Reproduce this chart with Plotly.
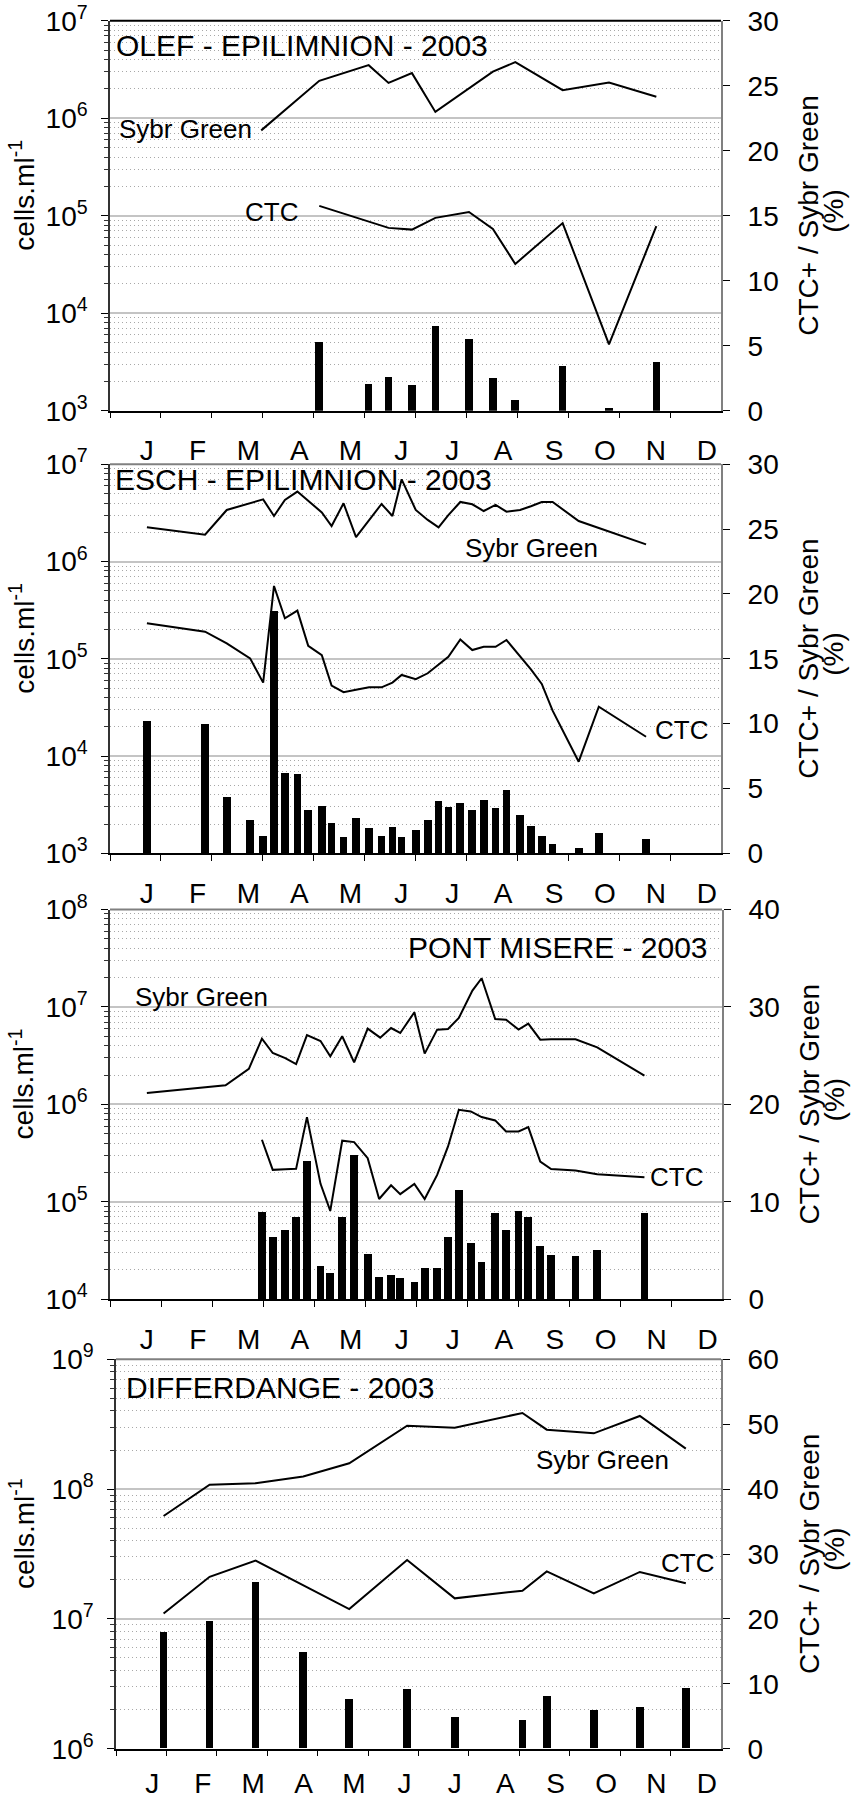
import plotly.graph_objects as go

# ---------------- data (x = fractional month since 1 Jan 2003) ----------------
MONTHS = ["J", "F", "M", "A", "M", "J", "J", "A", "S", "O", "N", "D"]

olef_sg_x = [2.97, 4.11, 5.08, 5.47, 5.93, 6.39, 7.52, 7.96, 8.89, 9.80, 10.73]
olef_sg_y = [7.5e5, 2.42e6, 3.5e6, 2.3e6, 2.9e6, 1.16e6, 3.0e6, 3.76e6, 1.94e6, 2.32e6, 1.66e6]
olef_ctc_x = [4.11, 5.47, 5.93, 6.39, 7.05, 7.52, 7.96, 8.89, 9.80, 10.73]
olef_ctc_y = [1.26e5, 7.5e4, 7.2e4, 9.5e4, 1.09e5, 7.3e4, 3.2e4, 8.4e4, 4.8e3, 7.8e4]
olef_pct_x = [4.11, 5.08, 5.47, 5.93, 6.39, 7.05, 7.52, 7.96, 8.89, 9.80, 10.73]
olef_pct_y = [5.27, 2.1, 2.6, 2.0, 6.55, 5.55, 2.54, 0.87, 3.47, 0.23, 3.75]

esch_x = [0.725, 1.867, 2.293, 2.752, 3.008, 3.221, 3.435, 3.680, 3.893, 4.160, 4.352,
          4.587, 4.832, 5.088, 5.333, 5.547, 5.728, 6.005, 6.240, 6.453, 6.645, 6.880,
          7.115, 7.339, 7.573, 7.787, 8.053, 8.267, 8.480, 8.693, 9.205, 9.600, 10.528]
esch_sg_y = [2.25e6, 1.89e6, 3.39e6, 3.97e6, 4.36e6, 2.94e6, 4.30e6, 5.24e6, 4.2e6, 3.2e6, 2.32e6,
             3.97e6, 1.78e6, 2.68e6, 3.91e6, 2.94e6, 7.0e6, 3.39e6, 2.68e6, 2.25e6, 3.0e6, 4.10e6,
             3.88e6, 3.31e6, 3.82e6, 3.26e6, 3.39e6, 3.7e6, 4.10e6, 4.10e6, 2.61e6, 2.21e6, 1.50e6]
esch_ctc_y = [2.32e5, 1.90e5, 1.44e5, 1.01e5, 5.69e4, 5.61e5, 2.61e5, 3.13e5, 1.36e5, 1.09e5, 5.30e4,
              4.53e4, 4.8e4, 5.09e4, 5.09e4, 5.69e4, 6.82e4, 6.16e4, 7.10e4, 8.64e4, 1.05e5, 1.58e5,
              1.23e5, 1.33e5, 1.33e5, 1.56e5, 1.05e5, 7.8e4, 5.51e4, 2.93e4, 8.75e3, 3.22e4, 1.58e4]
esch_pct_y = [10.2, 9.95, 4.3, 2.57, 1.34, 18.7, 6.17, 6.07, 3.34, 3.6, 2.31,
              1.21, 2.7, 1.93, 1.34, 1.98, 1.21, 1.8, 2.57, 4.04, 3.55, 3.86,
              3.29, 4.06, 3.5, 4.83, 2.9, 2.1, 1.34, 0.69, 0.36, 1.52, 1.05]

pont_sg_x = [0.723, 2.266, 2.723, 2.979, 3.191, 3.436, 3.649, 3.862, 4.128, 4.319, 4.553,
             4.787, 5.053, 5.298, 5.511, 5.691, 5.968, 6.170, 6.415, 6.628, 6.840, 7.106,
             7.287, 7.553, 7.766, 8.011, 8.202, 8.436, 8.649, 9.128, 9.553, 10.479]
pont_sg_y = [1.31e6, 1.57e6, 2.32e6, 4.73e6, 3.37e6, 2.99e6, 2.59e6, 5.15e6, 4.47e6, 3.11e6, 5.0e6,
             2.70e6, 5.99e6, 4.84e6, 6.08e6, 5.41e6, 8.81e6, 3.32e6, 5.85e6, 5.94e6, 7.71e6, 1.47e7,
             1.97e7, 7.53e6, 7.4e6, 5.85e6, 6.74e6, 4.62e6, 4.65e6, 4.65e6, 3.85e6, 1.97e6]
pont_x = [2.979, 3.191, 3.436, 3.649, 3.862, 4.128, 4.319, 4.553, 4.787, 5.053, 5.277,
          5.511, 5.691, 5.968, 6.170, 6.415, 6.628, 6.840, 7.074, 7.287, 7.553, 7.766,
          8.011, 8.202, 8.436, 8.649, 9.128, 9.553, 10.479]
pont_ctc_y = [4.34e5, 2.13e5, 2.16e5, 2.18e5, 7.41e5, 1.53e5, 8.09e4, 4.24e5, 4.10e5, 2.81e5, 1.07e5,
              1.48e5, 1.20e5, 1.53e5, 1.07e5, 1.89e5, 3.70e5, 8.81e5, 8.47e5, 7.41e5, 6.85e5, 5.28e5,
              5.28e5, 5.85e5, 2.59e5, 2.17e5, 2.10e5, 1.92e5, 1.79e5]
pont_pct_y = [9.0, 6.44, 7.19, 8.49, 14.2, 3.49, 2.74, 8.49, 14.9, 4.66, 2.33,
              2.5, 2.26, 1.82, 3.29, 3.29, 6.44, 11.3, 5.82, 3.87, 8.94, 7.12,
              9.08, 8.49, 5.51, 4.55, 4.45, 5.07, 8.94]

diff_x = [0.944, 1.857, 2.769, 3.714, 4.626, 5.774, 6.719, 8.061, 8.544, 9.477, 10.390, 11.302]
diff_sg_y = [6.21e7, 1.08e8, 1.11e8, 1.25e8, 1.58e8, 3.08e8, 2.97e8, 3.86e8, 2.87e8, 2.69e8, 3.66e8, 2.05e8]
diff_ctc_y = [1.10e7, 2.11e7, 2.81e7, 1.82e7, 1.19e7, 2.84e7, 1.44e7, 1.65e7, 2.32e7, 1.57e7, 2.30e7, 1.88e7]
diff_pct_y = [18.0, 19.6, 25.6, 14.8, 7.65, 9.19, 4.88, 4.37, 8.11, 5.96, 6.32, 9.24]

titles = ["OLEF - EPILIMNION - 2003", "ESCH - EPILIMNION - 2003",
          "PONT MISERE - 2003", "DIFFERDANGE - 2003"]

# ---------------- layout config (pixels) ----------------
W, H = 857, 1800
FONT = "Liberation Sans, Arial, sans-serif"

panels = [
    dict(sg=(olef_sg_x, olef_sg_y), ctc=(olef_ctc_x, olef_ctc_y), pct=(olef_pct_x, olef_pct_y),
         top=20.7, bottom=410.7, left=110, right=721, logr=(3, 7), pmax=30, pdt=5,
         title_xy=(114, 45), title_anchor="left", sg_xy=(185, 129), ctc_xy=(271, 212),
         topcolor="black", xstand=14),
    dict(sg=(esch_x, esch_sg_y), ctc=(esch_x, esch_ctc_y), pct=(esch_x, esch_pct_y),
         top=464.3, bottom=853.3, left=110, right=721, logr=(3, 7), pmax=30, pdt=5,
         title_xy=(113, 480), title_anchor="left", sg_xy=(531, 548), ctc_xy=(681, 730),
         topcolor="#808080", xstand=14),
    dict(sg=(pont_sg_x, pont_sg_y), ctc=(pont_x, pont_ctc_y), pct=(pont_x, pont_pct_y),
         top=909.5, bottom=1299.3, left=110, right=722, logr=(4, 8), pmax=40, pdt=10,
         title_xy=(710, 947), title_anchor="right", sg_xy=(201, 997), ctc_xy=(676, 1177),
         topcolor="#808080", xstand=14),
    dict(sg=(diff_x, diff_sg_y), ctc=(diff_x, diff_ctc_y), pct=(diff_x, diff_pct_y),
         top=1359.3, bottom=1748.7, left=116, right=721, logr=(6, 9), pmax=60, pdt=10,
         title_xy=(124, 1387), title_anchor="left", sg_xy=(602, 1460), ctc_xy=(687, 1563),
         topcolor="#808080", xstand=9),
]

def px(x):
    return x / W

def py(y):
    return 1 - y / H

fig = go.Figure()
layout = dict(width=W, height=H,
              margin=dict(l=0, r=0, t=0, b=0, pad=0, autoexpand=False),
              paper_bgcolor="white", plot_bgcolor="white", showlegend=False,
              font=dict(family=FONT, size=28, color="black"), bargap=0)
annotations = []
shapes = []

for i, p in enumerate(panels):
    xn = "" if i == 0 else str(i + 1)
    yl = str(2 * i + 1) if i > 0 else ""
    yr = str(2 * i + 2)
    xname, ylname, yrname = "x" + xn, "y" + yl, "y" + yr

    # bars (right axis %)
    fig.add_trace(go.Bar(x=p["pct"][0], y=p["pct"][1], width=0.15,
                         marker=dict(color="black", line=dict(width=0)),
                         xaxis=xname, yaxis=yrname, hoverinfo="skip"))
    # lines (left log axis)
    for key in ("sg", "ctc"):
        fig.add_trace(go.Scatter(x=p[key][0], y=p[key][1], mode="lines",
                                 line=dict(color="black", width=2),
                                 xaxis=xname, yaxis=ylname, hoverinfo="skip"))

    lo, hi = p["logr"]
    major = [10 ** d for d in range(lo, hi + 1)]
    minor = [k * 10 ** d for d in range(lo, hi) for k in range(2, 10)]
    ydom = [py(p["bottom"]), py(p["top"])]

    layout["xaxis" + xn] = dict(
        domain=[px(p["left"]), px(p["right"])], range=[0, 12], anchor=ylname,
        automargin=False,
        tickmode="array", tickvals=[k + 0.72 for k in range(12)], ticktext=MONTHS,
        ticks="", showgrid=False, zeroline=False, showline=True,
        linecolor="black", linewidth=1.5, ticklabelstandoff=p["xstand"],
        tickfont=dict(size=28),
        minor=dict(tickmode="array", tickvals=list(range(12)), ticks="outside",
                   ticklen=6, tickwidth=1.2, tickcolor="black", showgrid=False),
    )
    layout["yaxis" + yl] = dict(
        domain=ydom, type="log", range=[lo, hi], anchor=xname, side="left",
        automargin=False,
        tickmode="array", tickvals=major,
        ticktext=["10<sup>%d</sup>" % d for d in range(lo, hi + 1)],
        ticks="outside", ticklen=7, tickwidth=1.2, tickcolor="black",
        showline=True, linecolor="#333333", linewidth=1.5,
        showgrid=True, gridcolor="#c4c4c4", gridwidth=1.5, zeroline=False,
        ticklabelstandoff=8, tickfont=dict(size=28),
        minor=dict(tickmode="array", tickvals=minor, ticks="outside", ticklen=4,
                   tickwidth=1, tickcolor="#333333", showgrid=True,
                   gridcolor="#a8a8a8", gridwidth=1, griddash="1px,3px"),
    )
    layout["yaxis" + yr] = dict(
        overlaying=ylname, anchor=xname, side="right", range=[0, p["pmax"]],
        automargin=False,
        tickmode="linear", tick0=0, dtick=p["pdt"],
        ticks="outside", ticklen=7, tickwidth=1.2, tickcolor="black",
        showline=True, linecolor="#808080", linewidth=2, showgrid=False,
        zeroline=False, ticklabelstandoff=12, tickfont=dict(size=28),
    )

    # top border of the plot area
    shapes.append(dict(type="line", xref=xname + " domain", yref=ylname + " domain",
                       x0=0, x1=1, y0=1, y1=1, line=dict(color=p["topcolor"], width=2)))

    # panel title
    tx, ty = p["title_xy"]
    annotations.append(dict(text=titles[i], x=px(tx), y=py(ty), xref="paper", yref="paper",
                            xanchor=p["title_anchor"], yanchor="middle", showarrow=False,
                            font=dict(size=30)))
    # line labels
    for lbl, key in (("Sybr Green", "sg_xy"), ("CTC", "ctc_xy")):
        lx, ly = p[key]
        annotations.append(dict(text=lbl, x=px(lx), y=py(ly), xref="paper", yref="paper",
                                xanchor="center", yanchor="middle", showarrow=False,
                                font=dict(size=26)))
    mid = (p["top"] + p["bottom"]) / 2
    # left axis title
    annotations.append(dict(text="cells.ml<sup>-1</sup>", x=px(22), y=py(mid - 20),
                            xref="paper", yref="paper", xanchor="center", yanchor="middle",
                            textangle=-90, showarrow=False, font=dict(size=28)))
    # right axis title (two lines)
    annotations.append(dict(text="CTC+ / Sybr Green", x=px(809), y=py(mid),
                            xref="paper", yref="paper", xanchor="center", yanchor="middle",
                            textangle=-90, showarrow=False, font=dict(size=28)))
    annotations.append(dict(text="(%)", x=px(834), y=py(mid - 5),
                            xref="paper", yref="paper", xanchor="center", yanchor="middle",
                            textangle=-90, showarrow=False, font=dict(size=28)))

layout["annotations"] = annotations
layout["shapes"] = shapes
fig.update_layout(**layout)
fig.write_html("out.html", config={"displayModeBar": False},
               post_script="document.body.style.margin='0px';document.body.style.overflow='hidden';")
